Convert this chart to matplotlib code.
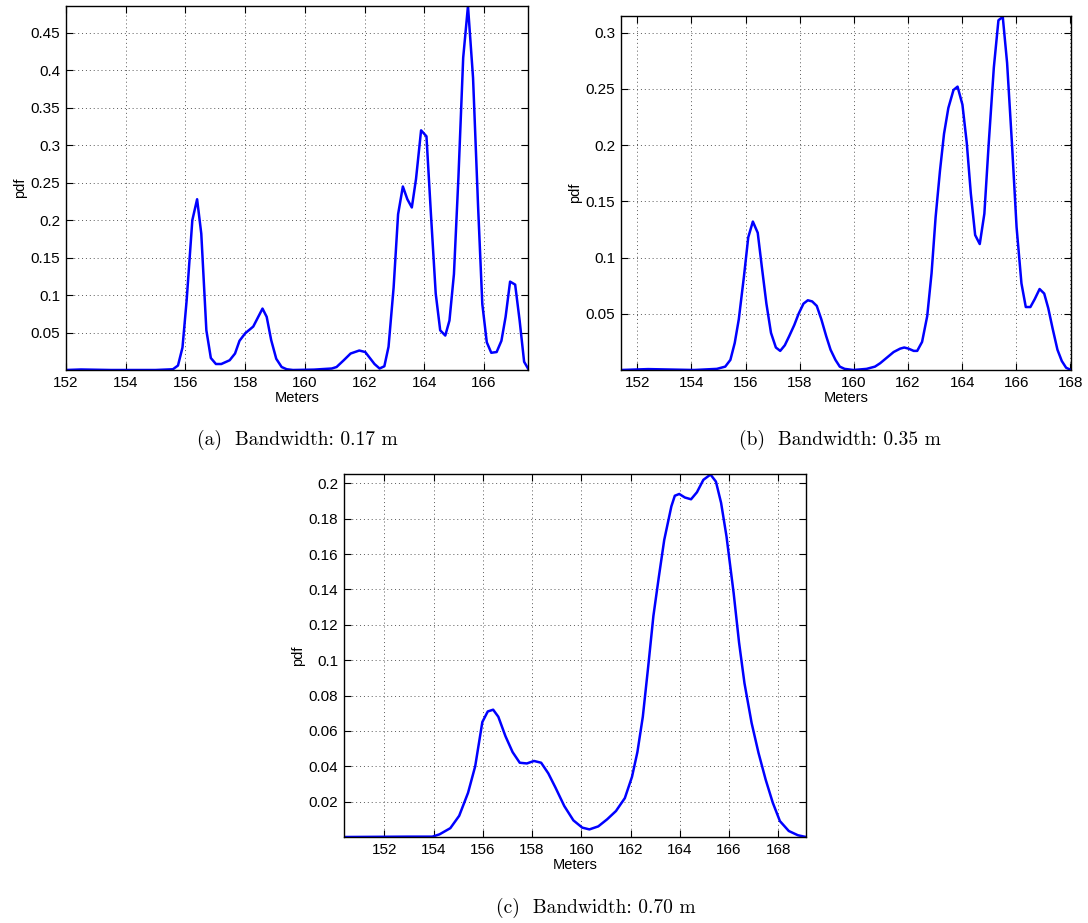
import matplotlib
matplotlib.use("Agg")
import matplotlib.pyplot as plt
from matplotlib.ticker import FixedLocator, FuncFormatter

# ---------------- data ----------------
# (a) bandwidth 0.17 m
xa = [152.0, 152.5, 153.5, 155.0, 155.58, 155.75, 155.9, 156.04, 156.23, 156.39, 156.53, 156.70,
      156.85, 157.02, 157.2, 157.48, 157.66, 157.81, 158.0, 158.27, 158.58, 158.72, 158.87,
      159.04, 159.22, 159.39, 159.6, 160.3, 160.9, 161.06, 161.3, 161.53, 161.82, 162.02,
      162.33, 162.5, 162.66, 162.8, 162.97, 163.12, 163.28, 163.43, 163.58, 163.72, 163.89,
      164.07, 164.22, 164.38, 164.53, 164.70, 164.84, 164.99, 165.14, 165.30, 165.46, 165.63,
      165.80, 165.94, 166.09, 166.24, 166.42, 166.58, 166.72, 166.87, 167.04, 167.19, 167.34,
      167.47]
ya = [0.0, 0.0007, 0.0, 0.0, 0.001, 0.006, 0.03, 0.093, 0.20, 0.228, 0.182, 0.053,
      0.016, 0.008, 0.008, 0.013, 0.022, 0.039, 0.049, 0.058, 0.082, 0.071, 0.040,
      0.015, 0.004, 0.001, 0.0, 0.0005, 0.002, 0.004, 0.013, 0.022, 0.026, 0.024,
      0.008, 0.002, 0.005, 0.031, 0.11, 0.208, 0.245, 0.228, 0.217, 0.255, 0.320,
      0.312, 0.208, 0.102, 0.053, 0.046, 0.066, 0.128, 0.257, 0.417, 0.486, 0.39,
      0.217, 0.088, 0.037, 0.023, 0.024, 0.039, 0.071, 0.118, 0.114, 0.066, 0.011,
      0.002]

# (b) bandwidth 0.35 m
xb = [151.4, 152.4, 154.1, 154.94, 155.25, 155.44, 155.6, 155.75, 155.94, 156.1, 156.27, 156.45,
      156.6, 156.77, 156.94, 157.12, 157.28, 157.45, 157.61, 157.8, 157.96, 158.14, 158.3,
      158.46, 158.63, 158.8, 158.98, 159.14, 159.32, 159.48, 159.66, 159.98, 160.47, 160.78,
      160.97, 161.22, 161.47, 161.71, 161.86, 162.02, 162.21, 162.34, 162.52, 162.71, 162.87,
      163.02, 163.18, 163.33, 163.49, 163.68, 163.83, 164.01, 164.17, 164.32, 164.48, 164.65,
      164.82, 164.98, 165.17, 165.34, 165.5, 165.66, 165.84, 166.01, 166.19, 166.35, 166.52,
      166.68, 166.86, 167.03, 167.18, 167.34, 167.52, 167.68, 167.84, 168.02]
yb = [0.0, 0.0008, 0.0, 0.001, 0.003, 0.009, 0.024, 0.045, 0.083, 0.118, 0.132, 0.122,
      0.092, 0.059, 0.033, 0.020, 0.017, 0.022, 0.030, 0.040, 0.050, 0.059, 0.062,
      0.061, 0.057, 0.045, 0.030, 0.018, 0.009, 0.003, 0.001, 0.0, 0.001, 0.003,
      0.006, 0.011, 0.016, 0.019, 0.020, 0.019, 0.017, 0.017, 0.025, 0.048, 0.086,
      0.136, 0.177, 0.210, 0.233, 0.249, 0.252, 0.236, 0.202, 0.157, 0.120, 0.112,
      0.139, 0.201, 0.269, 0.311, 0.314, 0.273, 0.201, 0.127, 0.077, 0.056, 0.056,
      0.063, 0.072, 0.068, 0.055, 0.037, 0.018, 0.008, 0.002, 0.0]

# (c) bandwidth 0.70 m
xc = [150.36, 152.94, 153.95, 154.24, 154.68, 155.04, 155.4, 155.69, 155.98, 156.2, 156.42,
      156.63, 156.92, 157.21, 157.5, 157.79, 158.08, 158.37, 158.66, 158.95, 159.31, 159.68,
      160.04, 160.33, 160.69, 161.05, 161.41, 161.77, 162.06, 162.28, 162.5, 162.72, 162.93,
      163.15, 163.37, 163.66, 163.8, 163.98, 164.21, 164.46, 164.7, 164.96, 165.25, 165.47,
      165.68, 165.9, 166.19, 166.41, 166.63, 166.92, 167.2, 167.49, 167.78, 168.07, 168.43,
      168.8, 169.13]
yc = [0.0, 0.0002, 0.0002, 0.0015, 0.005, 0.012, 0.025, 0.040, 0.065, 0.071, 0.072,
      0.068, 0.057, 0.048, 0.042, 0.0416, 0.043, 0.042, 0.036, 0.028, 0.0175, 0.0094,
      0.0053, 0.0043, 0.006, 0.010, 0.0147, 0.022, 0.034, 0.048, 0.068, 0.0965, 0.125,
      0.147, 0.168, 0.187, 0.193, 0.194, 0.192, 0.191, 0.195, 0.202, 0.205, 0.201,
      0.189, 0.170, 0.138, 0.110, 0.087, 0.0645, 0.0476, 0.0325, 0.0194, 0.009, 0.0034,
      0.001, 0.0]

xticks_a = [152, 154, 156, 158, 160, 162, 164, 166]
xticks_bc = [152, 154, 156, 158, 160, 162, 164, 166, 168]
yticks_a = [0.05, 0.1, 0.15, 0.2, 0.25, 0.3, 0.35, 0.4, 0.45]
yticks_b = [0.05, 0.1, 0.15, 0.2, 0.25, 0.3]
yticks_c = [0.02, 0.04, 0.06, 0.08, 0.1, 0.12, 0.14, 0.16, 0.18, 0.2]
captions = ["(a)  Bandwidth: 0.17 m", "(b)  Bandwidth: 0.35 m", "(c)  Bandwidth: 0.70 m"]

# ---------------- figure ----------------
W, H = 1088, 923
fig = plt.figure(figsize=(W / 100, H / 100), dpi=100)
SANS = ["Liberation Sans", "DejaVu Sans"]


def box(l, t, r, b):
    return [l / W, 1 - b / H, (r - l) / W, (b - t) / H]


def style(ax, x, y, xlim, ylim, xt, yt):
    ax.plot(x, y, color=(0, 0, 1), lw=1.8, clip_on=True)
    ax.set_xlim(*xlim)
    ax.set_ylim(*ylim)
    ax.xaxis.set_major_locator(FixedLocator(xt))
    ax.yaxis.set_major_locator(FixedLocator(yt))
    fmt = FuncFormatter(lambda v, p: "%g" % round(v, 4))
    ax.xaxis.set_major_formatter(fmt)
    ax.yaxis.set_major_formatter(fmt)
    ax.grid(True, color="0.35", linestyle=(0, (1, 3)), lw=0.7)
    ax.tick_params(direction="in", length=5, width=0.8, top=True, right=True,
                   labelsize=11, pad=4, color="black")
    for lab in ax.get_xticklabels() + ax.get_yticklabels():
        lab.set_family(SANS)
    for s in ax.spines.values():
        s.set_linewidth(1.0)
    ax.set_xlabel("Meters", family=SANS, fontsize=10.5, labelpad=1)
    ax.set_ylabel("pdf", family=SANS, fontsize=10.5, labelpad=3)


ax_a = fig.add_axes(box(66, 6, 528, 370))
style(ax_a, xa, ya, (152, 167.47), (0, 0.486), xticks_a, yticks_a)

ax_b = fig.add_axes(box(621, 16, 1071, 370))
style(ax_b, xb, yb, (151.4, 168.02), (0, 0.3148), xticks_bc, yticks_b)

ax_c = fig.add_axes(box(344, 474, 806, 837))
style(ax_c, xc, yc, (150.36, 169.13), (0, 0.2053), xticks_bc, yticks_c)

cap_font = dict(family=["cmr10", "DejaVu Serif"], fontsize=14, ha="center", va="center")
fig.text(297 / W, 1 - 440 / H, captions[0], **cap_font)
fig.text(840 / W, 1 - 440 / H, captions[1], **cap_font)
fig.text(596 / W, 1 - 908 / H, captions[2], **cap_font)

fig.savefig("out.png", dpi=100)
